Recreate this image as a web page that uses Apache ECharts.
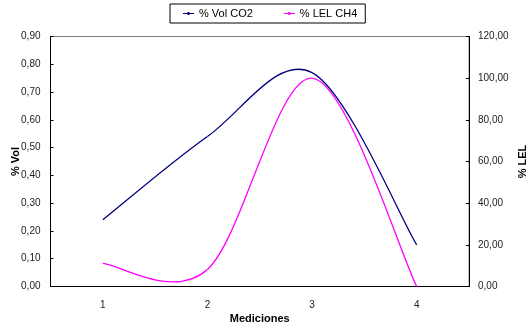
<!DOCTYPE html>
<html>
<head>
<meta charset="utf-8">
<script src="https://cdn.jsdelivr.net/npm/echarts@6/dist/echarts.min.js"></script>
<style>
html,body{margin:0;padding:0;background:#fff;}
#chart{width:526px;height:326px;}
</style>
</head>
<body>
<div id="chart"></div>
<script>
const categories = ['1', '2', '3', '4'];
const co2Values = [0.24, 0.54, 0.77, 0.15];
const ch4Values = [11.1, 8.2, 100, 0];
const leftTicks = {min: 0, max: 0.9, interval: 0.1};
const rightTicks = {min: 0, max: 120, interval: 20};
const seriesNames = ['% Vol CO2', '% LEL CH4'];
const colors = ['#000080', '#FF00FF'];

const FONT = '"Liberation Sans", Arial, sans-serif';

function smoothRenderer(vals, color) {
  return function (params, api) {
    const i = params.dataIndex;
    const n = vals.length;
    if (i >= n - 1) return null;
    const P = k => {
      const c = Math.max(0, Math.min(n - 1, k));
      return api.coord([c, vals[c]]);
    };
    const p0 = P(i - 1), p1 = P(i), p2 = P(i + 1), p3 = P(i + 2);
    return {
      type: 'bezierCurve',
      shape: {
        x1: p1[0], y1: p1[1], x2: p2[0], y2: p2[1],
        cpx1: p1[0] + (p2[0] - p0[0]) / 6, cpy1: p1[1] + (p2[1] - p0[1]) / 6,
        cpx2: p2[0] - (p3[0] - p1[0]) / 6, cpy2: p2[1] - (p3[1] - p1[1]) / 6
      },
      style: {stroke: color, fill: null, lineWidth: 1.3}
    };
  };
}

const chart = echarts.init(document.getElementById('chart'), null, {renderer: 'canvas'});
const legendIcon = 'path://M0,1 L11,1 L11,2 L0,2 Z M4.5,0 L6.5,0 L6.5,3 L4.5,3 Z';
chart.setOption({
  animation: false,
  backgroundColor: '#fff',
  textStyle: {fontFamily: FONT},
  legend: {
    left: 170, top: 4,
    padding: [4, 8, 4, 13],
    borderColor: '#000', borderWidth: 1,
    itemWidth: 11, itemHeight: 3, itemGap: 31,
    textStyle: {fontFamily: FONT, fontSize: 11, color: '#000'},
    data: seriesNames.map(n => ({name: n, icon: legendIcon}))
  },
  grid: {
    left: 50.5, right: 57, top: 36.5, bottom: 39.5,
    outerBoundsMode: 'none', containLabel: false,
    show: true, borderColor: '#808080', borderWidth: 1, backgroundColor: '#fff'
  },
  xAxis: {
    type: 'category', data: categories, boundaryGap: true,
    name: 'Mediciones', nameLocation: 'middle', nameGap: 27, nameMoveOverlap: false,
    nameTextStyle: {fontFamily: FONT, fontSize: 11, fontWeight: 'bold', color: '#000'},
    axisLine: {lineStyle: {color: '#000', width: 1}},
    axisTick: {inside: true, length: 4, lineStyle: {color: '#000'}},
    axisLabel: {fontFamily: FONT, fontSize: 10, color: '#222', margin: 14},
    splitLine: {show: false}
  },
  yAxis: [{
    type: 'value', min: leftTicks.min, max: leftTicks.max, interval: leftTicks.interval,
    name: '% Vol', nameLocation: 'middle', nameGap: 29, nameMoveOverlap: false,
    nameTextStyle: {fontFamily: FONT, fontSize: 11, fontWeight: 'bold', color: '#000'},
    axisLine: {show: true, lineStyle: {color: '#000', width: 1}},
    axisTick: {show: true, inside: true, length: 3, lineStyle: {color: '#000'}},
    axisLabel: {fontFamily: FONT, fontSize: 10, color: '#222', margin: 10,
      formatter: v => v.toFixed(2).replace('.', ',')},
    splitLine: {show: false}
  }, {
    type: 'value', position: 'right', min: rightTicks.min, max: rightTicks.max, interval: rightTicks.interval,
    name: '% LEL', nameLocation: 'middle', nameGap: 48, nameMoveOverlap: false,
    nameTextStyle: {fontFamily: FONT, fontSize: 11, fontWeight: 'bold', color: '#000'},
    axisLine: {show: true, lineStyle: {color: '#000', width: 1}},
    axisTick: {show: true, inside: true, length: 3, lineStyle: {color: '#000'}},
    axisLabel: {fontFamily: FONT, fontSize: 10, color: '#222', margin: 9,
      formatter: v => v.toFixed(2).replace('.', ',')},
    splitLine: {show: false}
  }],
  series: [{
    name: seriesNames[0], type: 'custom', yAxisIndex: 0,
    itemStyle: {color: colors[0]},
    encode: {x: 0, y: 1},
    data: co2Values.map((v, i) => [i, v]),
    renderItem: smoothRenderer(co2Values, colors[0])
  }, {
    name: seriesNames[1], type: 'custom', yAxisIndex: 1,
    itemStyle: {color: colors[1]},
    encode: {x: 0, y: 1},
    data: ch4Values.map((v, i) => [i, v]),
    renderItem: smoothRenderer(ch4Values, colors[1])
  }]
});
</script>
</body>
</html>
